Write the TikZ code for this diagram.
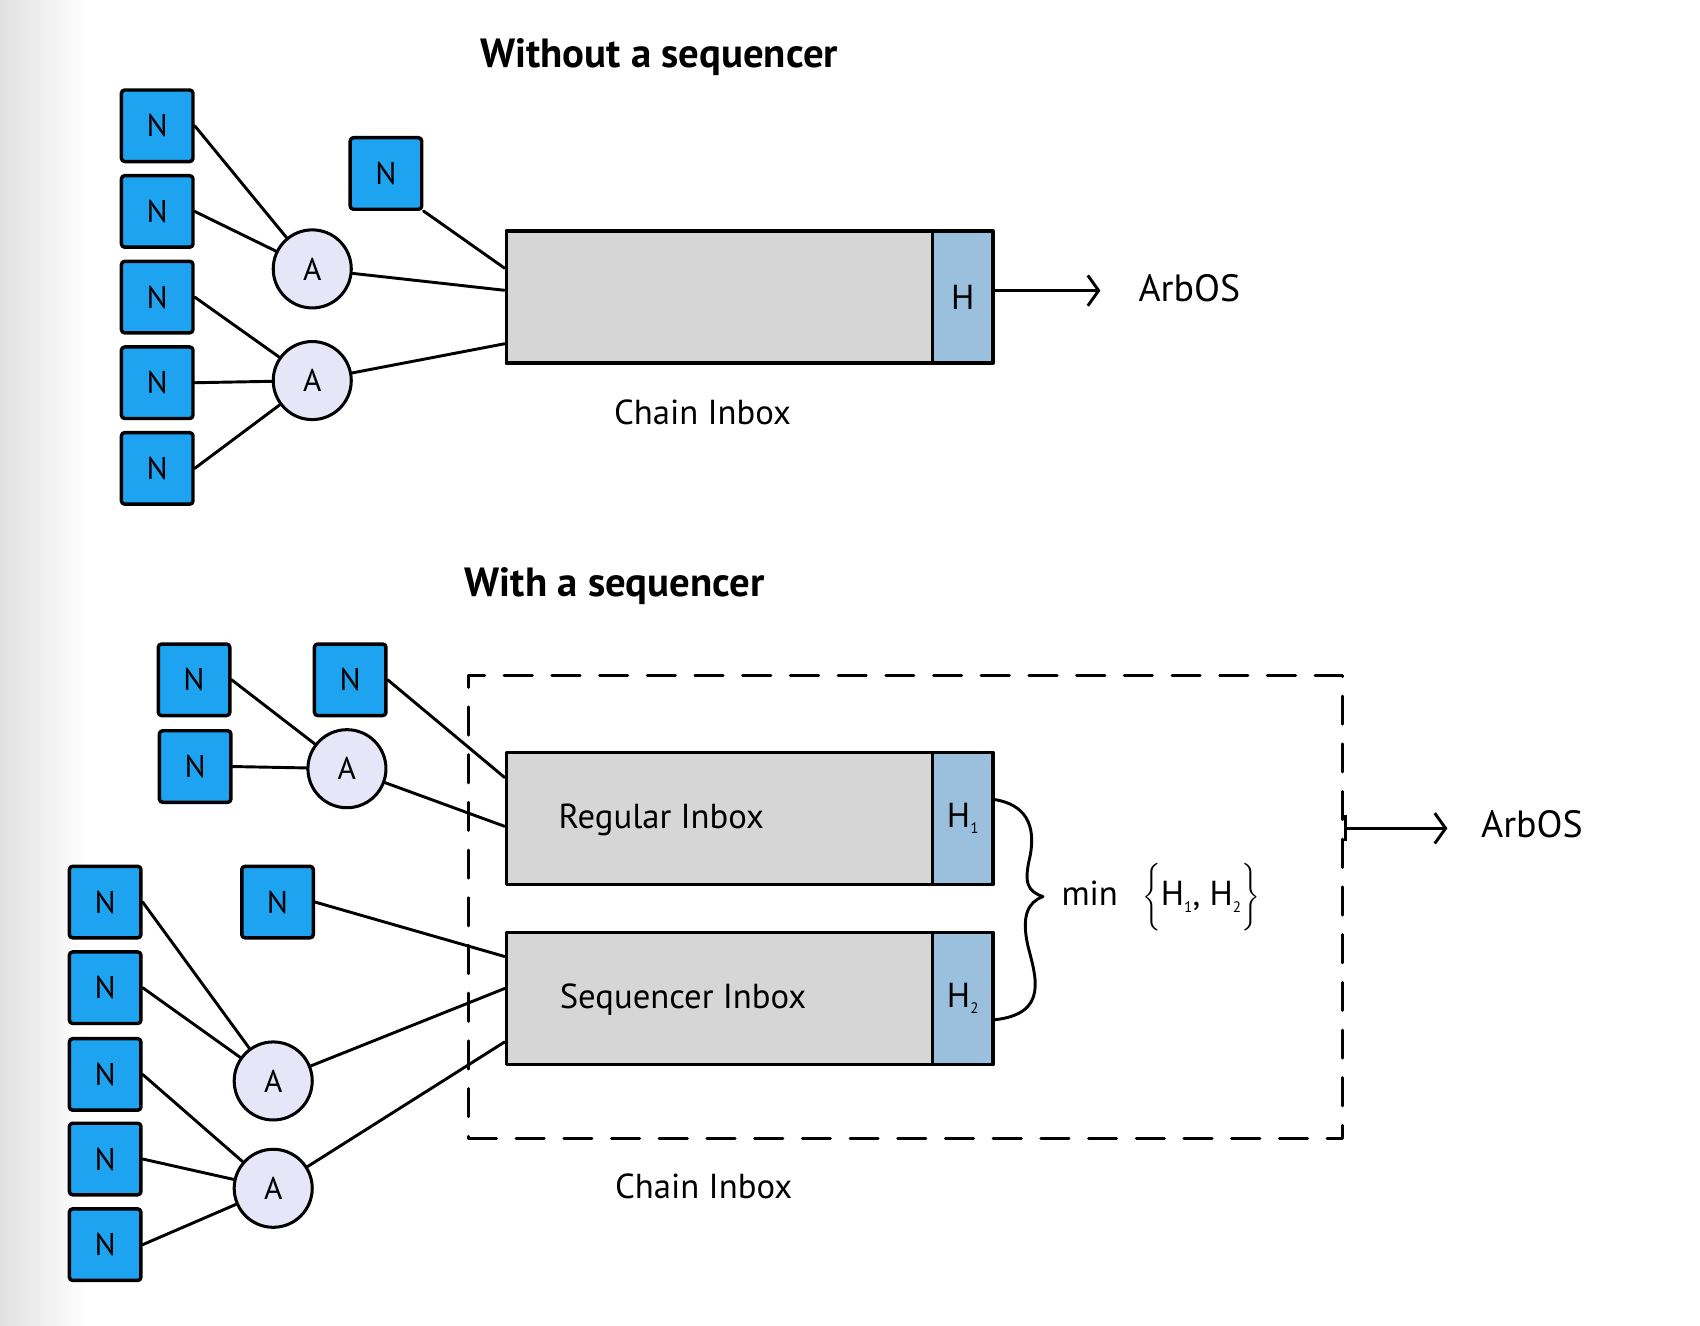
\documentclass[tikz,border=0pt]{standalone}
\usepackage{fontspec}
\usepackage{graphicx}
\setmainfont{PT Sans}
\usetikzlibrary{arrows.meta,calc}
\definecolor{nblue}{RGB}{29,163,240}
\definecolor{alav}{RGB}{230,230,248}
\definecolor{boxgray}{RGB}{214,214,214}
\definecolor{hblue}{RGB}{154,192,222}
\newcommand{\sbs}[1]{\raisebox{-0.35ex}{\scriptsize #1}}
\newcommand{\bigbr}[1]{\raisebox{-0.2ex}{\scalebox{1.15}[1.3]{$\Bigg#1$}}}
\begin{document}
\begin{tikzpicture}[x=0.5pt,y=-0.5pt,line join=round,line cap=round,
 nbox/.style={draw, line width=1.6pt, fill=nblue, minimum width=33pt, minimum height=33pt, rounded corners=1.5pt, font=\fontsize{14.5}{14.5}\selectfont, inner sep=0pt},
 agg/.style={circle, draw, line width=1.4pt, fill=alav, minimum size=36pt, inner sep=0pt, font=\fontsize{14.5}{14.5}\selectfont},
 inbox/.style={draw, line width=1.6pt, fill=boxgray, minimum width=196.5pt, minimum height=61pt, inner sep=0pt},
 hbox/.style={draw, line width=1.6pt, fill=hblue, minimum width=28pt, minimum height=61pt, inner sep=0pt, font=\fontsize{16}{16}\selectfont},
 link/.style={line width=1.35pt},
 ttl/.style={font=\bfseries\fontsize{18.8}{18.8}\selectfont},
 lbl/.style={font=\fontsize{16}{16}\selectfont},
 osl/.style={font=\fontsize{17.5}{17.5}\selectfont},
 arr/.style={line width=1.35pt, -{Straight Barb[length=5pt,width=14pt,line width=1.35pt]}},
 dbox/.style={draw, line width=1.35pt, dash pattern=on 13pt off 9pt, minimum width=403pt, minimum height=213.5pt, inner sep=0pt}]
\useasboundingbox (0,0) rectangle (1568,1223);
\shade[left color=black!12, right color=white, draw=none] (0,0) rectangle (80,1223);

% ---------- top ----------
\node[ttl] (t1) at (608,53) {Without a sequencer};
\node[nbox] (n1) at (145,116) {N};
\node[nbox] (n2) at (145,195) {N};
\node[nbox] (n3) at (145,274) {N};
\node[nbox] (n4) at (145,353) {N};
\node[nbox] (n5) at (145,432) {N};
\node[nbox] (n6) at (356,160) {N};
\node[agg] (a1) at (288,248) {A};
\node[agg] (a2) at (288,351) {A};
\node[inbox] (ci) at (663.5,274) {};
\node[hbox] (h) at (888,274) {H};
\node[osl] (arbos1) at (1097,266) {ArbOS};
\node[lbl] (cil1) at (648,380) {Chain Inbox};
\coordinate (e1) at (1015,268);
\draw[arr] (h.east |- e1) -- (e1);

\draw[link] (n1.east) -- (a1);
\draw[link] (n2.east) -- (a1);
\draw[link] (n3.east) -- (a2);
\draw[link] (n4.east) -- (a2);
\draw[link] (n5.east) -- (a2);
\draw[link] (n6.south east) -- ($(ci.north west)!0.287!(ci.south west)$);
\draw[link] (a1) -- ($(ci.north west)!0.45!(ci.south west)$);
\draw[link] (a2) -- ($(ci.north west)!0.844!(ci.south west)$);

% ---------- bottom ----------
\node[ttl] (t2) at (567,541) {With a sequencer};
\node[dbox] (cb) at (835,836.5) {};
\node[inbox] (ri) at (663.5,755) {};
\node[hbox] (h1) at (888,755) {H\sbs{1}};
\node[inbox] (si) at (663.5,921) {};
\node[hbox] (h2) at (888,921) {H\sbs{2}};
\node[lbl] (ril) at (610,756) {Regular Inbox};
\node[lbl] (sil) at (630,922) {Sequencer Inbox};
\node[lbl] (cil2) at (649,1094) {Chain Inbox};
\node[osl] (arbos2) at (1413,760) {ArbOS};
\node[lbl, anchor=west] (minl) at (972,826) {min\hspace{0.7em}\bigbr\{H\sbs{1}, H\sbs{2}\bigbr\}};

\coordinate (bs) at ($(h1.north east)!0.36!(h1.south east)$);
\coordinate (be) at ($(h2.north east)!0.656!(h2.south east)$);
\coordinate (btip) at (962,827);
\draw[link] (bs) .. controls (945,742) and (956,760) .. (950,790)
  .. controls (944,815) and (948,822) .. (btip)
  .. controls (948,832) and (942,845) .. (948,872)
  .. controls (955,900) and (968,935) .. (be);

\coordinate (e2) at (1335,764);
\draw[line width=1.35pt, {Bar[width=12pt,line width=1.35pt]}-{Straight Barb[length=5pt,width=14pt,line width=1.35pt]}] (cb.east |- e2) -- (e2);

\node[nbox] (b1) at (179,627) {N};
\node[nbox] (b2) at (323,627) {N};
\node[nbox] (b3) at (180,707) {N};
\node[agg] (ba1) at (320,709) {A};
\node[nbox] (b4) at (256,832) {N};
\node[nbox] (c1) at (97,832) {N};
\node[nbox] (c2) at (97,911) {N};
\node[nbox] (c3) at (97,991) {N};
\node[nbox] (c4) at (97,1069) {N};
\node[nbox] (c5) at (97,1148) {N};
\node[agg] (ba2) at (252,997) {A};
\node[agg] (ba3) at (252,1096) {A};

\draw[link] (b1.east) -- (ba1);
\draw[link] (b3.east) -- (ba1);
\draw[link] (b2.east) -- ($(ri.north west)!0.197!(ri.south west)$);
\draw[link] (ba1) -- ($(ri.north west)!0.557!(ri.south west)$);
\draw[link] (b4.east) -- ($(si.north west)!0.19!(si.south west)$);
\draw[link] (c1.east) -- (ba2);
\draw[link] (c2.east) -- (ba2);
\draw[link] (c3.east) -- (ba3);
\draw[link] (c4.east) -- (ba3);
\draw[link] (c5.east) -- (ba3);
\draw[link] (ba2) -- ($(si.north west)!0.426!(si.south west)$);
\draw[link] (ba3) -- ($(si.north west)!0.82!(si.south west)$);
\end{tikzpicture}
\end{document}
